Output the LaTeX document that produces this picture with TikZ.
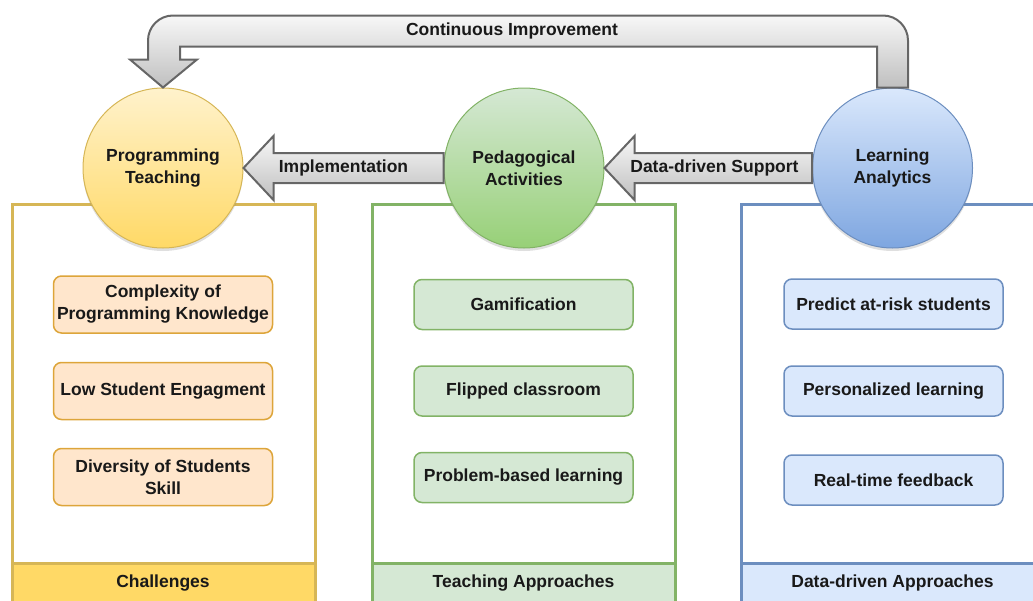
\documentclass[tikz,border=0pt]{standalone}
\usepackage{fontspec}
\setmainfont{Liberation Sans}
\usetikzlibrary{calc,shadows}

\definecolor{yelLine}{HTML}{D6B656}
\definecolor{yelFoot}{HTML}{FFD966}
\definecolor{yelTop}{HTML}{FFF2CC}
\definecolor{yelBot}{HTML}{FFD966}
\definecolor{orgFill}{HTML}{FFE6CC}
\definecolor{orgLine}{HTML}{DDA53A}
\definecolor{grnLine}{HTML}{82B366}
\definecolor{grnFill}{HTML}{D5E8D4}
\definecolor{grnBot}{HTML}{97D077}
\definecolor{bluLine}{HTML}{6C8EBF}
\definecolor{bluFill}{HTML}{DAE8FC}
\definecolor{bluBot}{HTML}{7EA6E0}
\definecolor{arrLine}{HTML}{666666}

\tikzset{
  every node/.style={font=\fontsize{17.5}{22}\selectfont\bfseries, align=center, text=black!90},
  hub/.style={circle, minimum size=160pt, inner sep=0pt, line width=1pt,
    drop shadow={opacity=0.25, shadow xshift=0pt, shadow yshift=-3pt}},
  item/.style={rounded corners=8pt, line width=1.5pt, minimum width=219pt, minimum height=50pt, inner sep=2pt},
  panel/.style={line width=3pt},
  fatarrow/.style={draw=arrLine, line width=2pt, line join=miter, top color=gray!6, bottom color=gray!50},
}

% fat arrow pointing left: tip, tail, label, label pos
\newcommand{\fatleft}[4]{%
  \path[fatarrow] (#1) -- ++(30,-32) -- ++(0,17) -- ($(#2)+(0,-15)$) -- ++(0,30)
    -- ($(#1)+(30,15)$) -- ++(0,17) -- cycle;
  \path (#1) -- (#2) node[pos=#4] {#3};
}

\begin{document}
\begin{tikzpicture}[x=1pt,y=-1pt]
\useasboundingbox (0,0) rectangle (1033,600);
\clip (0,0) rectangle (1033,600);

% columns
\fill[yelFoot] (12,563) rectangle (315,610);
\draw[panel,yelLine] (12,610) -- (12,204) -- (315,204) -- (315,610);
\draw[panel,yelLine] (12,563) -- (315,563);
\fill[grnFill] (372,563) rectangle (675,610);
\draw[panel,grnLine] (372,610) -- (372,204) -- (675,204) -- (675,610);
\draw[panel,grnLine] (372,563) -- (675,563);
\fill[bluFill] (741,563) rectangle (1044,610);
\draw[panel,bluLine] (741,610) -- (741,204) -- (1044,204) -- (1044,610);
\draw[panel,bluLine] (741,563) -- (1044,563);

\node (chal) at (163,583) {Challenges};
\node (teach) at (523.5,583) {Teaching Approaches};
\node (data) at (892.5,583) {Data-driven Approaches};

% hubs
\node[hub,draw=yelLine,top color=yelTop,bottom color=yelBot] (prog) at (163,168) {Programming\\Teaching};
\node[hub,draw=grnLine,top color=grnFill,bottom color=grnBot] (ped) at (524,168) {Pedagogical\\Activities};
\node[hub,draw=bluLine,top color=bluFill,bottom color=bluBot] (la) at (892.5,168) {Learning\\Analytics};

% items
\node[item,fill=orgFill,draw=orgLine,minimum height=57pt] (cpk) at (163,304.5) {Complexity of\\Programming Knowledge};
\node[item,fill=orgFill,draw=orgLine,minimum height=57pt] (lse) at (163,391) {Low Student Engagment};
\node[item,fill=orgFill,draw=orgLine,minimum height=57pt] (dss) at (163,477) {Diversity of Students\\Skill};

\node[item,fill=grnFill,draw=grnLine] (gam) at (523.5,304.5) {Gamification};
\node[item,fill=grnFill,draw=grnLine] (flip) at (523.5,391) {Flipped classroom};
\node[item,fill=grnFill,draw=grnLine] (pbl) at (523.5,477.5) {Problem-based learning};

\node[item,fill=bluFill,draw=bluLine] (risk) at (893.5,304) {Predict at-risk students};
\node[item,fill=bluFill,draw=bluLine] (pers) at (893.5,391) {Personalized learning};
\node[item,fill=bluFill,draw=bluLine] (rtf) at (893.5,480) {Real-time feedback};

% flows between hubs
\fatleft{prog.east}{ped.west}{Implementation}{0.5}
\fatleft{ped.east}{la.west}{Data-driven Support}{0.53}

\path[fatarrow] (prog.north) -- ++(34,-28) -- ++(-17,0) -- ++(0,-13)
  -- ($(la.north)+(-15.5,-41)$) -- ++(0,41) -- ++(31,0)
  [rounded corners=25pt] -- ++(0,-72) -- ($(prog.north)+(-15,-72)$)
  [sharp corners] -- ++(0,44) -- ++(-18,0) -- cycle;
\node (ci) at (512,31) {Continuous Improvement};
\end{tikzpicture}
\end{document}
